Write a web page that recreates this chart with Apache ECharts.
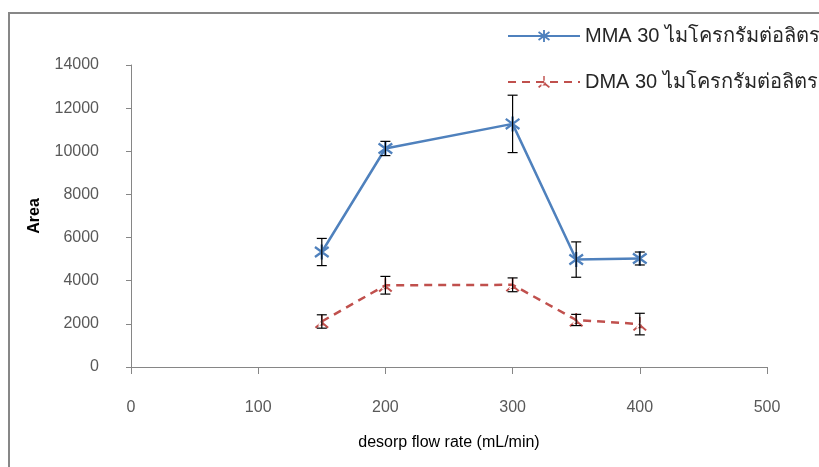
<!DOCTYPE html>
<html><head><meta charset="utf-8">
<script src="https://cdn.jsdelivr.net/npm/echarts@6/dist/echarts.min.js"></script>
<style>html,body{margin:0;padding:0;background:#fff}#c{width:819px;height:467px}</style>
</head><body><div id="c"></div>
<script>
const flowRates = [150, 200, 300, 350, 400];
const mmaArea = [5330, 10130, 11270, 4980, 5030];
const mmaErr  = [630, 330, 1330, 820, 300];
const dmaArea = [2110, 3790, 3810, 2180, 1990];
const dmaErr  = [310, 410, 320, 260, 500];
const seriesNames = ['MMA 30 ไมโครกรัมต่อลิตร', 'DMA 30 ไมโครกรัมต่อลิตร'];
const xTicks = {min: 0, max: 500, interval: 100};
const yTicks = {min: 0, max: 14000, interval: 2000};

const FONT = '"Liberation Sans", Arial, "Noto Sans", sans-serif';
const asterisk = 'path://M8.6,0 L11.4,0 L11.4,20 L8.6,20 Z M1,4.6 L2.6,2 L19,15.4 L17.4,18 Z M17.4,2 L19,4.6 L2.6,18 L1,15.4 Z';
const tristar = 'path://M8.8,0 L11.2,0 L11.2,12 L8.8,12 Z M9,10 L11,12 L2,19.5 L0,17.5 Z M11,10 L9,12 L18,19.5 L20,17.5 Z M4.5,15.5 L15.5,15.5 L10,7 Z';

function pairs(xs, ys) { return xs.map((x, i) => [x, ys[i]]); }
function errData(xs, ys, es) { return xs.map((x, i) => [x, ys[i] - es[i], ys[i] + es[i]]); }
function errRender(params, api) {
  const x = api.value(0);
  const lo = api.coord([x, api.value(1)]);
  const hi = api.coord([x, api.value(2)]);
  const w = 5;
  const st = {stroke: '#000', lineWidth: 1.2};
  return {type: 'group', children: [
    {type: 'line', shape: {x1: lo[0], y1: lo[1], x2: hi[0], y2: hi[1]}, style: st},
    {type: 'line', shape: {x1: lo[0] - w, y1: lo[1], x2: lo[0] + w, y2: lo[1]}, style: st},
    {type: 'line', shape: {x1: hi[0] - w, y1: hi[1], x2: hi[0] + w, y2: hi[1]}, style: st}
  ]};
}

const chart = echarts.init(document.getElementById('c'));
const legendText = {fontSize: 20, color: '#262626', fontFamily: FONT};
chart.setOption({
  animation: false,
  backgroundColor: '#fff',
  textStyle: {fontFamily: FONT},
  graphic: [{type: 'rect', shape: {x: 9, y: 13, width: 900, height: 500},
    style: {fill: 'none', stroke: '#878787', lineWidth: 2}, silent: true, z: -1}],
  grid: {left: 131, right: 52, top: 65, bottom: 100},
  legend: [
    {data: [seriesNames[0]], left: 502, top: 21, itemWidth: 72, itemHeight: 15,
     textStyle: legendText, itemGap: 4},
    {data: [seriesNames[1]], left: 502, top: 67, itemWidth: 72, itemHeight: 15,
     textStyle: legendText, itemGap: 4}
  ],
  xAxis: {
    type: 'value', min: xTicks.min, max: xTicks.max, interval: xTicks.interval,
    name: 'desorp flow rate (mL/min)', nameLocation: 'middle', nameGap: 68,
    nameTextStyle: {fontSize: 16, color: '#000', fontFamily: FONT},
    axisLine: {lineStyle: {color: '#868686', width: 1}},
    axisTick: {show: true, length: 7, lineStyle: {color: '#868686'}},
    axisLabel: {fontSize: 16, color: '#595959', margin: 33},
    splitLine: {show: false}
  },
  yAxis: {
    type: 'value', min: yTicks.min, max: yTicks.max, interval: yTicks.interval,
    name: 'Area', nameLocation: 'middle', nameGap: 88,
    nameTextStyle: {fontSize: 16, fontWeight: 'bold', color: '#000', fontFamily: FONT},
    axisLine: {show: true, lineStyle: {color: '#868686', width: 1}},
    axisTick: {show: true, length: 5, lineStyle: {color: '#868686'}},
    axisLabel: {fontSize: 16, color: '#595959', margin: 32, formatter: v => String(v)},
    splitLine: {show: false}
  },
  series: [
    {name: seriesNames[0], type: 'line', data: pairs(flowRates, mmaArea),
     symbol: asterisk, symbolSize: 15, z: 3,
     lineStyle: {color: '#4F81BD', width: 2.5},
     itemStyle: {color: '#4F81BD'}},
    {name: seriesNames[1], type: 'line', data: pairs(flowRates, dmaArea),
     symbol: tristar, symbolSize: 14, z: 3,
     lineStyle: {color: '#C0504D', width: 2.5, type: [8, 6]},
     itemStyle: {color: '#C0504D'}},
    {type: 'custom', renderItem: errRender, data: errData(flowRates, mmaArea, mmaErr), z: 4, silent: true},
    {type: 'custom', renderItem: errRender, data: errData(flowRates, dmaArea, dmaErr), z: 4, silent: true}
  ]
});
</script></body></html>
